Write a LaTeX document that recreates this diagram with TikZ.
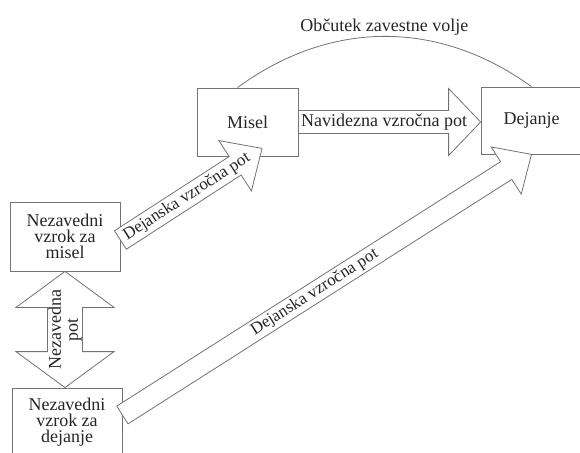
\documentclass[tikz,border=0pt]{standalone}
\usepackage{fontspec}
\setmainfont{Liberation Serif}
\usetikzlibrary{calc}
\colorlet{linegray}{black!55}

% block arrow: [text options]{from}{to}{shaft}{head}{head length}{text}
\newcommand\blockarrow[7][]{%
  \draw[arrowline] let \p1=($(#3)-(#2)$), \n1={atan2(\y1,\x1)}, \n2={veclen(\x1,\y1)} in
    [shift={(#2)}, rotate=\n1]
    (0pt,-#4) -- (\n2-#6,-#4) -- (\n2-#6,-#5) -- (\n2,0pt) -- (\n2-#6,#5) -- (\n2-#6,#4) -- (0pt,#4) -- cycle
    (.47*\n2,0pt) node[transform shape, arrowtext, #1] {#7};}
\newcommand\doublearrow[7][]{%
  \draw[arrowline] let \p1=($(#3)-(#2)$), \n1={atan2(\y1,\x1)}, \n2={veclen(\x1,\y1)} in
    [shift={(#2)}, rotate=\n1]
    (0pt,0pt) -- (#6,-#5) -- (#6,-#4) -- (\n2-#6,-#4) -- (\n2-#6,-#5) -- (\n2,0pt)
    -- (\n2-#6,#5) -- (\n2-#6,#4) -- (#6,#4) -- (#6,#5) -- cycle
    (.5*\n2,0pt) node[transform shape, arrowtext, #1] {#7};}

\begin{document}
\begin{tikzpicture}[x=1pt, y=-1pt,
    box/.style={draw=linegray, fill=white, line width=.8pt, minimum width=110pt, minimum height=69pt,
      align=center, text=black!85, font=\fontsize{18}{16}\selectfont},
    arrowline/.style={draw=linegray, fill=white, line width=.8pt},
    arrowtext/.style={inner sep=0pt, text=black!85, font=\fontsize{18}{17}\selectfont, align=center}]
\useasboundingbox (0,0) rectangle (580,452);

\node[box] (nvm) at (65,236.5) {Nezavedni\\vzrok za\\misel};
\node[box] (nvd) at (67,422.5) {Nezavedni\\vzrok za\\dejanje};
\node[box, minimum width=101pt, minimum height=68pt] (misel) at (247.5,122) {Misel};
\node[box, minimum width=101pt, minimum height=67pt] (dejanje) at (531.5,120.5) {Dejanje};

% obcutek volje
\draw[arrowline, fill=none] ([xshift=-10pt]misel.north) to[bend left=36]
  node[arrowtext, above=1pt] (volja) {Občutek zavestne volje} (dejanje.north);

\coordinate (a1s) at ([yshift=-3.5pt]nvm.east);
\coordinate (a1e) at ([xshift=14.5pt, yshift=8pt]misel.south);
\coordinate (a2s) at ([yshift=7.5pt]nvd.east);
\coordinate (a2e) at (dejanje.south);
\coordinate (hs) at (misel.east);
\coordinate (he) at (misel.east -| dejanje.west);
\coordinate (vs) at (nvm.south |- nvd.north);
\coordinate (ve) at (nvm.south);

\blockarrow{hs}{he}{11.5pt}{33.5pt}{32pt}{Navidezna vzročna pot}
\blockarrow[font=\fontsize{17}{17}\selectfont]{a1s}{a1e}{11pt}{30pt}{32pt}{Dejanska vzročna pot}
\blockarrow[font=\fontsize{17}{17}\selectfont]{a2s}{a2e}{10.5pt}{28pt}{30pt}{Dejanska vzročna pot}
\doublearrow{vs}{ve}{17.5pt}{49pt}{36pt}{Nezavedna\\pot}
\end{tikzpicture}
\end{document}
